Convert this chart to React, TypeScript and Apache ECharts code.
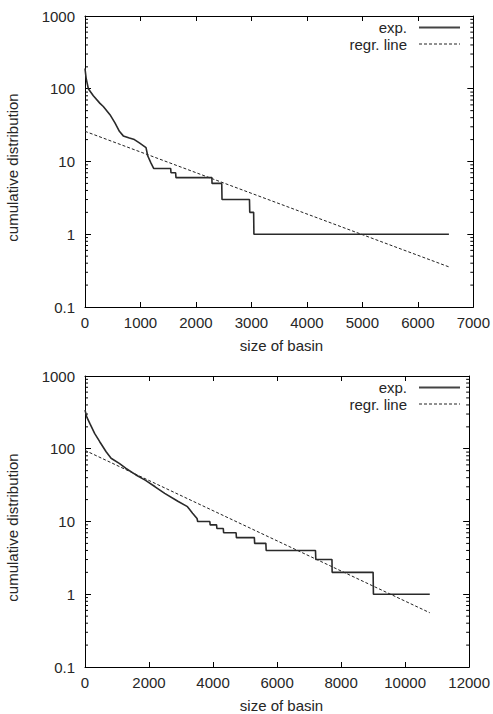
import React, { useEffect, useRef } from "react";
import * as echarts from "echarts";

// ---- data ----
const expTopX = [0, 20, 60, 150, 270, 330, 450, 540, 620, 690, 800, 890, 980, 1100, 1130, 1190, 1240, 1545, 1550, 1634, 1640, 2287, 2290, 2465, 2470, 2965, 2970, 3040, 3045, 6560];
const expTopY = [190, 140, 100, 80, 63, 57, 44, 34, 26, 22.5, 21, 20, 18, 15.5, 12, 9.5, 8, 8, 7, 7, 6, 6, 5, 5, 3, 3, 2, 2, 1, 1];
const regrTopX = [0, 6560];
const regrTopY = [26, 0.356];

const expBotX = [0, 60, 150, 300, 460, 660, 815, 1070, 1270, 1580, 1880, 2190, 2490, 2900, 3200, 3360, 3500, 3520, 3900, 3910, 4110, 4120, 4320, 4330, 4720, 4730, 5290, 5300, 5650, 5660, 7200, 7210, 7715, 7720, 9000, 9010, 10770];
const expBotY = [340, 270, 223, 163, 125, 91, 74, 63, 54, 44, 37, 30, 24.4, 19, 16, 13, 11, 10, 10, 9, 9, 8, 8, 7, 7, 6, 6, 5, 5, 4, 4, 3, 3, 2, 2, 1, 1];
const regrBotX = [0, 10770];
const regrBotY = [95, 0.557];

const yTickLabels = ["0.1", "1", "10", "100", "1000"];
const yMinorTicks = [0.2, 0.3, 0.4, 0.5, 0.6, 0.7, 0.8, 0.9, 2, 3, 4, 5, 6, 7, 8, 9, 20, 30, 40, 50, 60, 70, 80, 90, 200, 300, 400, 500, 600, 700, 800, 900];
const xTopMax = 7000, xTopInterval = 1000;
const xBotMax = 12000, xBotInterval = 2000;
const legendNames = ["exp.", "regr. line"];
const xTitle = "size of basin";
const yTitle = "cumulative distribution";

// ---- layout ----
const W = 493;
const H = 714;
const FS = 15;
const FONT = "'Liberation Sans', Arial, Helvetica, sans-serif";
const gridLeft = 85;
const gridRight = W - 478;
const gridTops = [16, 376];
const gridH = 291;

const zip = (xs: number[], ys: number[]) => xs.map((x, i) => [x, ys[i]]);

export default function App() {
  const ref = useRef<HTMLDivElement>(null);
  useEffect(() => {
    if (!ref.current) return;
    const chart = echarts.init(ref.current, null, { renderer: "svg", width: W, height: H });
    const maxes = [xTopMax, xBotMax];
    const intervals = [xTopInterval, xBotInterval];
    const grids = gridTops.map((t) => ({ left: gridLeft, right: gridRight, top: t, height: gridH, containLabel: false }));
    const xAxes: any[] = [];
    const yAxes: any[] = [];
    [0, 1].forEach((g) => {
      xAxes.push({
        type: "value", gridIndex: g, min: 0, max: maxes[g], interval: intervals[g], position: "bottom",
        axisLine: { show: true, onZero: false, lineStyle: { color: "#000", width: 1 } },
        axisTick: { show: true, inside: true, length: 5, lineStyle: { color: "#000" } },
        axisLabel: { show: true, margin: 8, color: "#262626", fontSize: FS, fontFamily: FONT, showMaxLabel: true, formatter: (v: number) => String(v) },
        splitLine: { show: false },
      });
      xAxes.push({
        type: "value", gridIndex: g, min: 0, max: maxes[g], interval: intervals[g], position: "top",
        axisLine: { show: true, onZero: false, lineStyle: { color: "#000", width: 1 } },
        axisTick: { show: true, inside: true, length: 5, lineStyle: { color: "#000" } },
        axisLabel: { show: false }, splitLine: { show: false },
      });
      yAxes.push({
        type: "log", logBase: 10, gridIndex: g, min: 0.1, max: 1000, position: "left",
        axisLine: { show: true, onZero: false, lineStyle: { color: "#000", width: 1 } },
        axisTick: { show: true, inside: true, length: 6, lineStyle: { color: "#000" } },
        axisLabel: {
          show: true, margin: 10, color: "#262626", fontSize: FS, fontFamily: FONT,
          formatter: (v: number) => yTickLabels[Math.round(Math.log10(v)) + 1] ?? "",
        },
        splitLine: { show: false },
      });
      yAxes.push({
        type: "log", logBase: 10, gridIndex: g, min: 0.1, max: 1000, position: "right",
        axisLine: { show: true, onZero: false, lineStyle: { color: "#000", width: 1 } },
        axisTick: { show: true, inside: true, length: 6, lineStyle: { color: "#000" } },
        axisLabel: { show: false }, splitLine: { show: false },
      });
    });

    const expData = [zip(expTopX, expTopY), zip(expBotX, expBotY)];
    const regrData = [zip(regrTopX, regrTopY), zip(regrBotX, regrBotY)];
    const series: any[] = [];
    [0, 1].forEach((g) => {
      series.push({
        type: "line", name: legendNames[0], xAxisIndex: g * 2, yAxisIndex: g * 2,
        data: expData[g], showSymbol: false, symbol: "none",
        lineStyle: { color: "#2a2a2a", width: 1.6 }, z: 3,
      });
      series.push({
        type: "line", name: legendNames[1], xAxisIndex: g * 2, yAxisIndex: g * 2,
        data: regrData[g], showSymbol: false, symbol: "none",
        lineStyle: { color: "#222", width: 1, type: [3, 2] }, z: 2,
      });
      const xm = maxes[g];
      series.push({
        type: "custom", xAxisIndex: g * 2, yAxisIndex: g * 2, clip: false, silent: true,
        data: yMinorTicks.map((v) => [0, v]),
        encode: { x: 0, y: 1 },
        renderItem: (_p: any, api: any) => {
          const v = api.value(1);
          const l = api.coord([0, v]);
          const r = api.coord([xm, v]);
          return {
            type: "group",
            children: [
              { type: "line", shape: { x1: l[0], y1: l[1], x2: l[0] + 3, y2: l[1] }, style: { stroke: "#000", lineWidth: 1 } },
              { type: "line", shape: { x1: r[0] - 3, y1: r[1], x2: r[0], y2: r[1] }, style: { stroke: "#000", lineWidth: 1 } },
            ],
          };
        },
      });
    });

    const graphic: any[] = [];
    gridTops.forEach((t, g) => {
      const off = g * 360;
      graphic.push({
        type: "text", x: 12, y: t + gridH / 2 + 6, rotation: Math.PI / 2,
        style: { text: yTitle, font: `${FS}px ${FONT}`, fill: "#262626", align: "center", verticalAlign: "middle" },
      });
      graphic.push({
        type: "text", x: (85 + 478) / 2, y: 345 + off,
        style: { text: xTitle, font: `${FS}px ${FONT}`, fill: "#262626", align: "center", verticalAlign: "middle" },
      });
      graphic.push({
        type: "text", x: 407, y: 27.5 + off,
        style: { text: legendNames[0], font: `${FS}px ${FONT}`, fill: "#262626", align: "right", verticalAlign: "middle" },
      });
      graphic.push({
        type: "line", shape: { x1: 419, y1: 27.5 + off, x2: 460, y2: 27.5 + off },
        style: { stroke: "#444", lineWidth: 2 },
      });
      graphic.push({
        type: "text", x: 407, y: 44.5 + off,
        style: { text: legendNames[1], font: `${FS}px ${FONT}`, fill: "#262626", align: "right", verticalAlign: "middle" },
      });
      graphic.push({
        type: "line", shape: { x1: 419, y1: 44 + off, x2: 460, y2: 44 + off },
        style: { stroke: "#222", lineWidth: 1, lineDash: [3, 2] },
      });
    });

    chart.setOption({
      animation: false,
      backgroundColor: "#fff",
      textStyle: { fontFamily: FONT },
      grid: grids,
      xAxis: xAxes,
      yAxis: yAxes,
      series,
      graphic,
    });
    return () => chart.dispose();
  }, []);

  return (
    <div
      ref={ref}
      style={{ position: "absolute", left: 0, top: 0, width: W, height: H, overflow: "hidden", background: "#fff" }}
    />
  );
}
